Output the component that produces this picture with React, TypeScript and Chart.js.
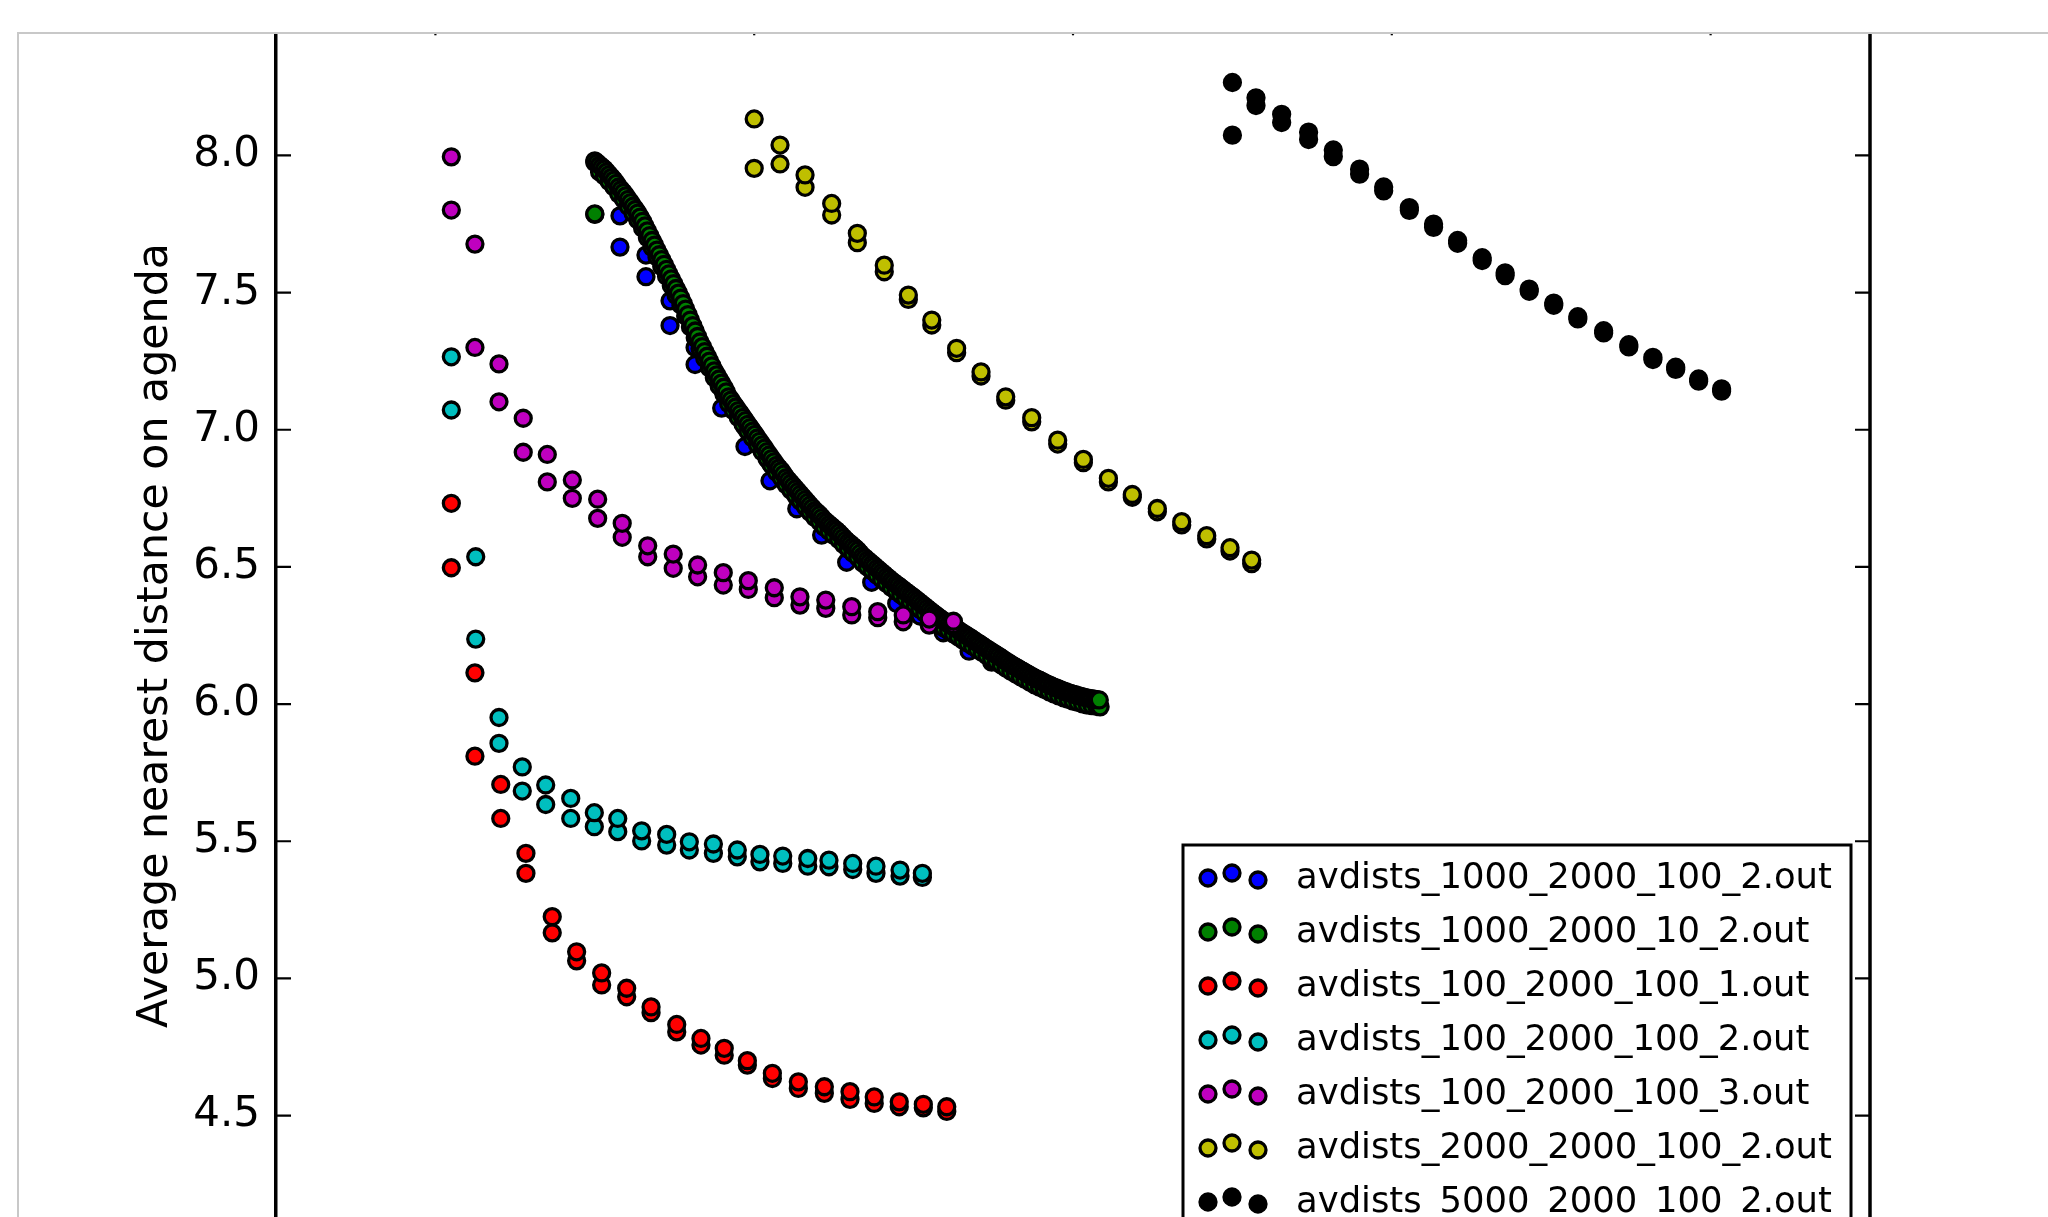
import { useEffect, useRef } from 'react';
import { Chart, registerables } from 'chart.js';

Chart.register(...registerables);

// ---------- data ----------
const Y_TITLE = 'Average nearest distance on agenda';
const Y_TICKS = [4.0, 4.5, 5.0, 5.5, 6.0, 6.5, 7.0, 7.5, 8.0, 8.5];
const X_TICKS = [0, 2000, 4000, 6000, 8000];
const X_MIN = -1000;
const X_MAX = 9000;
const Y_MIN = 4.0;
const Y_MAX = 8.5;

const SERIES_NAMES = [
  'avdists_1000_2000_100_2.out',
  'avdists_1000_2000_10_2.out',
  'avdists_100_2000_100_1.out',
  'avdists_100_2000_100_2.out',
  'avdists_100_2000_100_3.out',
  'avdists_2000_2000_100_2.out',
  'avdists_5000_2000_100_2.out',
];
const SERIES_COLORS = ['#0000ff', '#008000', '#ff0000', '#00bfbf', '#bf00bf', '#bfbf00', '#000000'];

const BLUE_X = [1000, 1158, 1321, 1472, 1629, 1796, 1942, 2099, 2267, 2423, 2580, 2737, 2894, 3040, 3186, 3348, 3490, 3647, 3793, 3939, 4086];
const BLUE_HI = [7.975, 7.78, 7.637, 7.47, 7.3, 7.15, 7.01, 6.88, 6.77, 6.67, 6.58, 6.49, 6.42, 6.35, 6.29, 6.225, 6.18, 6.13, 6.085, 6.045, 6.015];
const BLUE_LO = [7.785, 7.666, 7.558, 7.38, 7.238, 7.079, 6.939, 6.814, 6.712, 6.616, 6.517, 6.444, 6.367, 6.321, 6.26, 6.193, 6.153, 6.112, 6.072, 6.031, 5.998];

// green run is dense: upper run read every 15 units, lower run every 30 units
const GREEN_HI_X = [
  1000, 1015, 1030, 1045, 1060, 1075, 1090, 1105, 1120, 1135,
  1150, 1165, 1180, 1195, 1210, 1225, 1240, 1255, 1270, 1285,
  1300, 1315, 1330, 1345, 1360, 1375, 1390, 1405, 1420, 1435,
  1450, 1465, 1480, 1495, 1510, 1525, 1540, 1555, 1570, 1585,
  1600, 1615, 1630, 1645, 1660, 1675, 1690, 1705, 1720, 1735,
  1750, 1765, 1780, 1795, 1810, 1825, 1840, 1855, 1870, 1885,
  1900, 1915, 1930, 1945, 1960, 1975, 1990, 2005, 2020, 2035,
  2050, 2065, 2080, 2095, 2110, 2125, 2140, 2155, 2170, 2185,
  2200, 2215, 2230, 2245, 2260, 2275, 2290, 2305, 2320, 2335,
  2350, 2365, 2380, 2395, 2410, 2425, 2440, 2455, 2470, 2485,
  2500, 2515, 2530, 2545, 2560, 2575, 2590, 2605, 2620, 2635,
  2650, 2665, 2680, 2695, 2710, 2725, 2740, 2755, 2770, 2785,
  2800, 2815, 2830, 2845, 2860, 2875, 2890, 2905, 2920, 2935,
  2950, 2965, 2980, 2995, 3010, 3025, 3040, 3055, 3070, 3085,
  3100, 3115, 3130, 3145, 3160, 3175, 3190, 3205, 3220, 3235,
  3250, 3265, 3280, 3295, 3310, 3325, 3340, 3355, 3370, 3385,
  3400, 3415, 3430, 3445, 3460, 3475, 3490, 3505, 3520, 3535,
  3550, 3565, 3580, 3595, 3610, 3625, 3640, 3655, 3670, 3685,
  3700, 3715, 3730, 3745, 3760, 3775, 3790, 3805, 3820, 3835,
  3850, 3865, 3880, 3895, 3910, 3925, 3940, 3955, 3970, 3985,
  4000, 4015, 4030, 4045, 4060, 4075, 4090, 4105, 4120, 4135,
  4150, 4165,
];
const GREEN_HI = [
  7.98, 7.973, 7.965, 7.958, 7.95, 7.94, 7.93, 7.92, 7.91, 7.898,
  7.885, 7.875, 7.865, 7.853, 7.84, 7.828, 7.815, 7.803, 7.79, 7.775,
  7.76, 7.743, 7.725, 7.708, 7.69, 7.673, 7.655, 7.638, 7.62, 7.603,
  7.585, 7.568, 7.55, 7.533, 7.515, 7.498, 7.48, 7.46, 7.44, 7.42,
  7.4, 7.38, 7.36, 7.34, 7.32, 7.303, 7.285, 7.268, 7.25, 7.233,
  7.215, 7.2, 7.185, 7.17, 7.155, 7.138, 7.12, 7.108, 7.095, 7.083,
  7.07, 7.058, 7.045, 7.033, 7.02, 7.008, 6.995, 6.983, 6.97, 6.958,
  6.945, 6.933, 6.92, 6.908, 6.895, 6.883, 6.87, 6.86, 6.85, 6.838,
  6.825, 6.815, 6.805, 6.795, 6.785, 6.775, 6.765, 6.755, 6.745, 6.735,
  6.725, 6.715, 6.705, 6.698, 6.69, 6.68, 6.67, 6.663, 6.655, 6.648,
  6.64, 6.633, 6.625, 6.616, 6.607, 6.598, 6.59, 6.583, 6.575, 6.568,
  6.56, 6.55, 6.54, 6.533, 6.525, 6.518, 6.51, 6.503, 6.495, 6.488,
  6.48, 6.473, 6.465, 6.458, 6.45, 6.444, 6.437, 6.431, 6.424, 6.417,
  6.41, 6.404, 6.397, 6.391, 6.384, 6.377, 6.37, 6.363, 6.356, 6.349,
  6.342, 6.335, 6.328, 6.322, 6.315, 6.309, 6.303, 6.298, 6.292, 6.287,
  6.281, 6.276, 6.27, 6.264, 6.258, 6.253, 6.247, 6.242, 6.236, 6.23,
  6.224, 6.219, 6.213, 6.207, 6.201, 6.196, 6.19, 6.185, 6.179, 6.174,
  6.168, 6.162, 6.156, 6.151, 6.145, 6.14, 6.135, 6.13, 6.125, 6.12,
  6.115, 6.11, 6.105, 6.1, 6.095, 6.091, 6.087, 6.083, 6.078, 6.074,
  6.07, 6.066, 6.062, 6.059, 6.055, 6.052, 6.048, 6.045, 6.042, 6.039,
  6.036, 6.034, 6.031, 6.029, 6.026, 6.024, 6.022, 6.021, 6.019, 6.018,
  6.016, 6.015,
];
const GREEN_LO_X = [
  1000, 1030, 1060, 1090, 1120, 1150, 1180, 1210, 1240, 1270,
  1300, 1330, 1360, 1390, 1420, 1450, 1480, 1510, 1540, 1570,
  1600, 1630, 1660, 1690, 1720, 1750, 1780, 1810, 1840, 1870,
  1900, 1930, 1960, 1990, 2020, 2050, 2080, 2110, 2140, 2170,
  2200, 2230, 2260, 2290, 2320, 2350, 2380, 2410, 2440, 2470,
  2500, 2530, 2560, 2590, 2620, 2650, 2680, 2710, 2740, 2770,
  2800, 2830, 2860, 2890, 2920, 2950, 2980, 3010, 3040, 3070,
  3100, 3130, 3160, 3190, 3220, 3250, 3280, 3310, 3340, 3370,
  3400, 3430, 3460, 3490, 3520, 3550, 3580, 3610, 3640, 3670,
  3700, 3730, 3760, 3790, 3820, 3850, 3880, 3910, 3940, 3970,
  4000, 4030, 4060, 4090, 4120, 4150, 4170,
];
const GREEN_LO = [
  7.787, 7.94, 7.925, 7.905, 7.885, 7.86, 7.84, 7.815, 7.79, 7.765,
  7.735, 7.7, 7.665, 7.63, 7.595, 7.56, 7.525, 7.49, 7.455, 7.415,
  7.375, 7.335, 7.295, 7.26, 7.225, 7.19, 7.16, 7.13, 7.095, 7.07,
  7.045, 7.02, 6.995, 6.97, 6.945, 6.92, 6.895, 6.87, 6.845, 6.825,
  6.8, 6.78, 6.76, 6.74, 6.72, 6.7, 6.68, 6.665, 6.645, 6.63,
  6.615, 6.6, 6.582, 6.565, 6.55, 6.535, 6.515, 6.5, 6.485, 6.47,
  6.455, 6.44, 6.425, 6.412, 6.399, 6.385, 6.372, 6.359, 6.345, 6.331,
  6.317, 6.303, 6.29, 6.278, 6.267, 6.256, 6.245, 6.233, 6.222, 6.211,
  6.199, 6.188, 6.176, 6.165, 6.154, 6.143, 6.131, 6.12, 6.11, 6.1,
  6.09, 6.08, 6.07, 6.062, 6.053, 6.045, 6.037, 6.03, 6.023, 6.017,
  6.011, 6.006, 6.001, 5.997, 5.994, 5.991, 5.99,
];

const RED_X = [100, 248, 410, 568, 733, 886, 1043, 1200, 1353, 1514, 1666, 1812, 1957, 2114, 2277, 2440, 2601, 2753, 2910, 3061, 3208];
const RED_HI = [6.732, 6.114, 5.707, 5.456, 5.225, 5.097, 5.02, 4.964, 4.896, 4.832, 4.781, 4.745, 4.7, 4.654, 4.623, 4.605, 4.587, 4.568, 4.55, 4.541, 4.532];
const RED_LO = [6.497, 5.81, 5.583, 5.383, 5.166, 5.064, 4.976, 4.933, 4.875, 4.805, 4.757, 4.72, 4.684, 4.635, 4.599, 4.581, 4.559, 4.544, 4.532, 4.528, 4.515];

const CYAN_X = [100, 253, 399, 545, 692, 849, 997, 1144, 1294, 1451, 1593, 1744, 1894, 2036, 2179, 2336, 2469, 2618, 2764, 2915, 3055];
const CYAN_HI = [7.266, 6.537, 5.951, 5.771, 5.705, 5.656, 5.604, 5.583, 5.538, 5.525, 5.498, 5.49, 5.468, 5.452, 5.446, 5.437, 5.431, 5.419, 5.409, 5.395, 5.383];
const CYAN_LO = [7.072, 6.237, 5.857, 5.683, 5.634, 5.583, 5.553, 5.535, 5.501, 5.486, 5.468, 5.456, 5.443, 5.425, 5.419, 5.409, 5.407, 5.397, 5.383, 5.373, 5.368];

const MAGENTA_X = [100, 248, 399, 551, 702, 859, 1018, 1172, 1332, 1492, 1645, 1806, 1963, 2126, 2287, 2449, 2612, 2775, 2935, 3098, 3250];
const MAGENTA_HI = [7.995, 7.677, 7.24, 7.042, 6.91, 6.817, 6.747, 6.659, 6.577, 6.547, 6.507, 6.479, 6.45, 6.424, 6.391, 6.379, 6.355, 6.337, 6.325, 6.31, 6.302];
const MAGENTA_LO = [7.801, 7.3, 7.102, 6.918, 6.81, 6.75, 6.677, 6.608, 6.537, 6.495, 6.464, 6.434, 6.418, 6.388, 6.361, 6.349, 6.325, 6.315, 6.3, 6.288, 6.29];

const YELLOW_X = [2000, 2162, 2319, 2486, 2647, 2816, 2967, 3114, 3270, 3423, 3578, 3741, 3904, 4065, 4222, 4372, 4529, 4682, 4839, 4985, 5121];
const YELLOW_HI = [8.133, 8.038, 7.929, 7.825, 7.716, 7.6, 7.491, 7.4, 7.297, 7.211, 7.12, 7.044, 6.962, 6.892, 6.823, 6.764, 6.713, 6.665, 6.614, 6.57, 6.525];
const YELLOW_LO = [7.953, 7.969, 7.884, 7.783, 7.682, 7.576, 7.475, 7.382, 7.281, 7.196, 7.108, 7.029, 6.948, 6.88, 6.81, 6.754, 6.701, 6.653, 6.602, 6.558, 6.512];

const BLACK_X = [5000, 5148, 5309, 5478, 5633, 5798, 5949, 6110, 6262, 6413, 6567, 6711, 6862, 7016, 7167, 7329, 7487, 7638, 7781, 7925, 8069];
const BLACK_HI = [8.266, 8.21, 8.15, 8.085, 8.02, 7.95, 7.885, 7.81, 7.75, 7.69, 7.627, 7.572, 7.513, 7.462, 7.412, 7.361, 7.31, 7.264, 7.228, 7.185, 7.149];
const BLACK_LO = [8.074, 8.182, 8.12, 8.058, 7.996, 7.932, 7.871, 7.8, 7.738, 7.68, 7.617, 7.562, 7.505, 7.454, 7.404, 7.353, 7.302, 7.256, 7.22, 7.177, 7.141];

const SERIES = [
  { hiX: BLUE_X, hi: BLUE_HI, loX: BLUE_X, lo: BLUE_LO },
  { hiX: GREEN_HI_X, hi: GREEN_HI, loX: GREEN_LO_X, lo: GREEN_LO },
  { hiX: RED_X, hi: RED_HI, loX: RED_X, lo: RED_LO },
  { hiX: CYAN_X, hi: CYAN_HI, loX: CYAN_X, lo: CYAN_LO },
  { hiX: MAGENTA_X, hi: MAGENTA_HI, loX: MAGENTA_X, lo: MAGENTA_LO },
  { hiX: YELLOW_X, hi: YELLOW_HI, loX: YELLOW_X, lo: YELLOW_LO },
  { hiX: BLACK_X, hi: BLACK_HI, loX: BLACK_X, lo: BLACK_LO },
];

// ---------- layout / style ----------
const W = 2048;
const H = 1300;
const FONT = '"DejaVu Sans", "Liberation Sans", sans-serif';
const TICK_FONT_SIZE = 42;
const TITLE_FONT_SIZE = 42.7;
const LEGEND_FONT_SIZE = 35.4;
const MARKER_R = 8;
const MARKER_EDGE = 3.3;

function buildPoints(s: { hiX: number[]; hi: number[]; loX: number[]; lo: number[] }) {
  const pts: { x: number; y: number }[] = [];
  s.loX.forEach((x, i) => pts.push({ x, y: s.lo[i] }));
  s.hiX.forEach((x, i) => pts.push({ x, y: s.hi[i] }));
  return pts;
}

function drawMarker(ctx: CanvasRenderingContext2D, x: number, y: number, color: string) {
  ctx.beginPath();
  ctx.arc(x, y, MARKER_R, 0, Math.PI * 2);
  ctx.fillStyle = color;
  ctx.fill();
  ctx.lineWidth = MARKER_EDGE;
  ctx.strokeStyle = '#000';
  ctx.stroke();
}

const decorPlugin = {
  id: 'decor',
  afterDraw(chart: any) {
    const { ctx, chartArea: a, scales } = chart;
    const xs = scales.x;
    const ys = scales.y;
    ctx.save();

    // right spine
    ctx.strokeStyle = '#000';
    ctx.lineWidth = 3.5;
    ctx.beginPath();
    ctx.moveTo(a.right, a.top);
    ctx.lineTo(a.right, a.bottom);
    ctx.stroke();

    // inward tick marks
    ctx.lineWidth = 2.2;
    Y_TICKS.forEach((v) => {
      const py = ys.getPixelForValue(v);
      ctx.beginPath();
      ctx.moveTo(a.left, py);
      ctx.lineTo(a.left + 15, py);
      ctx.moveTo(a.right, py);
      ctx.lineTo(a.right - 15, py);
      ctx.stroke();
    });
    X_TICKS.forEach((v) => {
      const px = xs.getPixelForValue(v);
      ctx.beginPath();
      ctx.moveTo(px, a.top);
      ctx.lineTo(px, a.top + 17);
      ctx.stroke();
    });

    // legend (lower right)
    const boxRight = a.right - 19;
    const boxLeft = boxRight - 668;
    const boxTop = 845;
    const boxBottom = a.bottom - 18;
    ctx.fillStyle = '#fff';
    ctx.fillRect(boxLeft, boxTop, boxRight - boxLeft, boxBottom - boxTop);
    ctx.strokeStyle = '#000';
    ctx.lineWidth = 3;
    ctx.strokeRect(boxLeft, boxTop, boxRight - boxLeft, boxBottom - boxTop);
    const markerDx = [25, 49, 75];
    const markerDy = [-10, -15, -8];
    ctx.font = `${LEGEND_FONT_SIZE}px ${FONT}`;
    ctx.textBaseline = 'alphabetic';
    ctx.textAlign = 'left';
    SERIES_NAMES.forEach((name, i) => {
      const base = 888 + i * 54;
      markerDx.forEach((dx, k) => drawMarker(ctx, boxLeft + dx, base + markerDy[k], SERIES_COLORS[i]));
      ctx.fillStyle = '#000';
      ctx.fillText(name, boxLeft + 113, base);
    });

    // crop mask and frame
    ctx.fillStyle = '#fff';
    ctx.fillRect(0, 0, W, 32);
    ctx.fillRect(0, 0, 17, H);
    ctx.strokeStyle = '#c8c8c8';
    ctx.lineWidth = 2;
    ctx.beginPath();
    ctx.moveTo(18, H);
    ctx.lineTo(18, 33);
    ctx.lineTo(W, 33);
    ctx.stroke();
    ctx.restore();
  },
};

export default function App() {
  const ref = useRef<HTMLCanvasElement>(null);

  useEffect(() => {
    const canvas = ref.current;
    if (!canvas) return;
    const chart = new Chart(canvas, {
      type: 'scatter',
      data: {
        datasets: SERIES.map((s, i) => ({
          label: SERIES_NAMES[i],
          data: buildPoints(s),
          backgroundColor: SERIES_COLORS[i],
          borderColor: '#000',
          borderWidth: MARKER_EDGE,
          pointRadius: MARKER_R,
          pointHoverRadius: MARKER_R,
          pointStyle: 'circle',
          // later series are drawn on top (as in the reference)
          order: SERIES.length - i,
        })),
      },
      options: {
        responsive: false,
        animation: false,
        devicePixelRatio: 1,
        events: [],
        layout: { padding: { left: 131, right: 178, top: 18.3, bottom: 47.3 } },
        plugins: {
          legend: { display: false },
          tooltip: { enabled: false },
        },
        scales: {
          x: { type: 'linear', min: X_MIN, max: X_MAX, display: false },
          y: {
            type: 'linear',
            position: 'left',
            min: Y_MIN,
            max: Y_MAX,
            afterBuildTicks: (s: any) => {
              s.ticks = Y_TICKS.map((v) => ({ value: v }));
            },
            afterFit: (s: any) => {
              s.width = 145;
              s.paddingTop = 0;
              s.paddingBottom = 0;
            },
            grid: { display: false, drawTicks: false },
            border: { display: true, color: '#000', width: 3.5 },
            ticks: {
              color: '#000',
              autoSkip: false,
              padding: 16,
              font: { family: FONT, size: TICK_FONT_SIZE },
              callback: (v: any) => Number(v).toFixed(1),
            },
            title: {
              display: true,
              text: Y_TITLE,
              color: '#000',
              padding: 0,
              font: { family: FONT, size: TITLE_FONT_SIZE, lineHeight: 1.18 },
            },
          },
        },
      },
      plugins: [decorPlugin],
    } as any);
    return () => chart.destroy();
  }, []);

  return (
    <div style={{ position: 'fixed', left: 0, top: 0, width: W, height: 1217, overflow: 'hidden', background: '#fff' }}>
      <canvas ref={ref} width={W} height={H} style={{ display: 'block', width: W, height: H }} />
    </div>
  );
}
